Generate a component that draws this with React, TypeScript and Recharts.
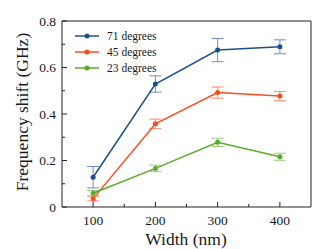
import { LineChart, Line, XAxis, YAxis, ErrorBar, ReferenceLine } from 'recharts';

// Sample widths (nm) and frequency shifts (GHz) for each angle
const widths = [100, 200, 300, 400];
const deg71 = [0.128, 0.529, 0.675, 0.689];
const err71 = [0.046, 0.035, 0.05, 0.03];
const deg45 = [0.036, 0.358, 0.492, 0.477];
const err45 = [0.01, 0.02, 0.024, 0.02];
const deg23 = [0.059, 0.166, 0.278, 0.216];
const err23 = [0.012, 0.014, 0.018, 0.015];

const xTicks = [100, 150, 200, 250, 300, 350, 400];
const yTicks = [0, 0.1, 0.2, 0.3, 0.4, 0.5, 0.6, 0.7, 0.8];

const SERIES = [
  { key: 'd71', err: 'e71', name: '71 degrees', color: '#1c4f8d', errColor: '#6d8fbb' },
  { key: 'd45', err: 'e45', name: '45 degrees', color: '#ff4a1c', errColor: '#ff8a6a' },
  { key: 'd23', err: 'e23', name: '23 degrees', color: '#5aaa2a', errColor: '#98cc7a' },
];

const TXT = { fontFamily: "'Liberation Serif'" };
const AXIS = '#222';
const INK = '#1a1a1a';

const data = widths.map((w, i) => ({
  w,
  d71: deg71[i], e71: err71[i],
  d45: deg45[i], e45: err45[i],
  d23: deg23[i], e23: err23[i],
}));

const XTick = ({ x, y, payload }: any) => {
  const major = payload.value % 100 === 0;
  return (
    <g>
      <line x1={x} x2={x} y1={y} y2={y - (major ? 5 : 3)} stroke={AXIS} />
      {major && (
        <text x={x} y={y + 18} textAnchor="middle" fontSize={13.5} style={TXT} fill={INK}>
          {payload.value}
        </text>
      )}
    </g>
  );
};

const YTick = ({ x, y, payload }: any) => {
  const v = payload.value;
  const major = Math.round(v * 10) % 2 === 0;
  return (
    <g>
      <line x1={x} x2={x + (major ? 5 : 3)} y1={y} y2={y} stroke={AXIS} />
      {major && (
        <text x={x - 6} y={y} dy="0.35em" textAnchor="end" fontSize={13.5} style={TXT} fill={INK}>
          {v === 0 ? '0' : v.toFixed(1)}
        </text>
      )}
    </g>
  );
};

const XLabel = () => (
  <text x={186} y={245} textAnchor="middle" fontSize={17.5} style={TXT} fill={INK}>
    Width (nm)
  </text>
);

const YLabel = () => (
  <text
    x={21.5}
    y={112}
    transform="rotate(-90, 21.5, 112)"
    textAnchor="middle"
    dominantBaseline="central"
    fontSize={17.5}
    style={TXT}
    fill={INK}
  >
    Frequency shift (GHz)
  </text>
);

const LegendBox = () => (
  <svg width={110} height={50} style={{ position: 'absolute', left: 70, top: 28 }}>
    {SERIES.map((s, i) => (
      <g key={s.key}>
        <line x1={5} x2={29} y1={8 + i * 16} y2={8 + i * 16} stroke={s.color} strokeWidth={1.5} />
        <circle cx={17} cy={8 + i * 16} r={2.5} fill={s.color} />
        <text x={37} y={8 + i * 16} dy="0.35em" fontSize={11.5} style={TXT} fill={INK}>
          {s.name}
        </text>
      </g>
    ))}
  </svg>
);

export default function App() {
  return (
    <div style={{ position: 'absolute', left: 0, top: 0, width: 332, height: 249 }}>
      <LineChart width={332} height={249} data={data} margin={{ top: 21, right: 21, left: 2, bottom: 0 }}>
        <XAxis
          dataKey="w"
          type="number"
          domain={[50, 450]}
          ticks={xTicks}
          interval={0}
          height={42}
          tickSize={0}
          tickMargin={0}
          tickLine={false}
          tick={<XTick />}
          axisLine={{ stroke: AXIS }}
          label={<XLabel />}
        />
        <YAxis
          type="number"
          domain={[0, 0.8]}
          ticks={yTicks}
          interval={0}
          width={60}
          tickSize={0}
          tickMargin={0}
          tickLine={false}
          tick={<YTick />}
          axisLine={{ stroke: AXIS }}
          label={<YLabel />}
        />
        <ReferenceLine y={0.8} stroke={AXIS} strokeWidth={1} />
        <ReferenceLine x={450} stroke={AXIS} strokeWidth={1} />
        {SERIES.map((s) => (
          <Line
            key={s.key}
            dataKey={s.key}
            name={s.name}
            stroke={s.color}
            strokeWidth={1.5}
            dot={{ r: 2.5, fill: s.color, stroke: s.color, strokeWidth: 0 }}
            activeDot={false}
            isAnimationActive={false}
          >
            <ErrorBar dataKey={s.err} width={6} stroke={s.errColor} strokeWidth={1} isAnimationActive={false} />
          </Line>
        ))}
      </LineChart>
      <LegendBox />
    </div>
  );
}
